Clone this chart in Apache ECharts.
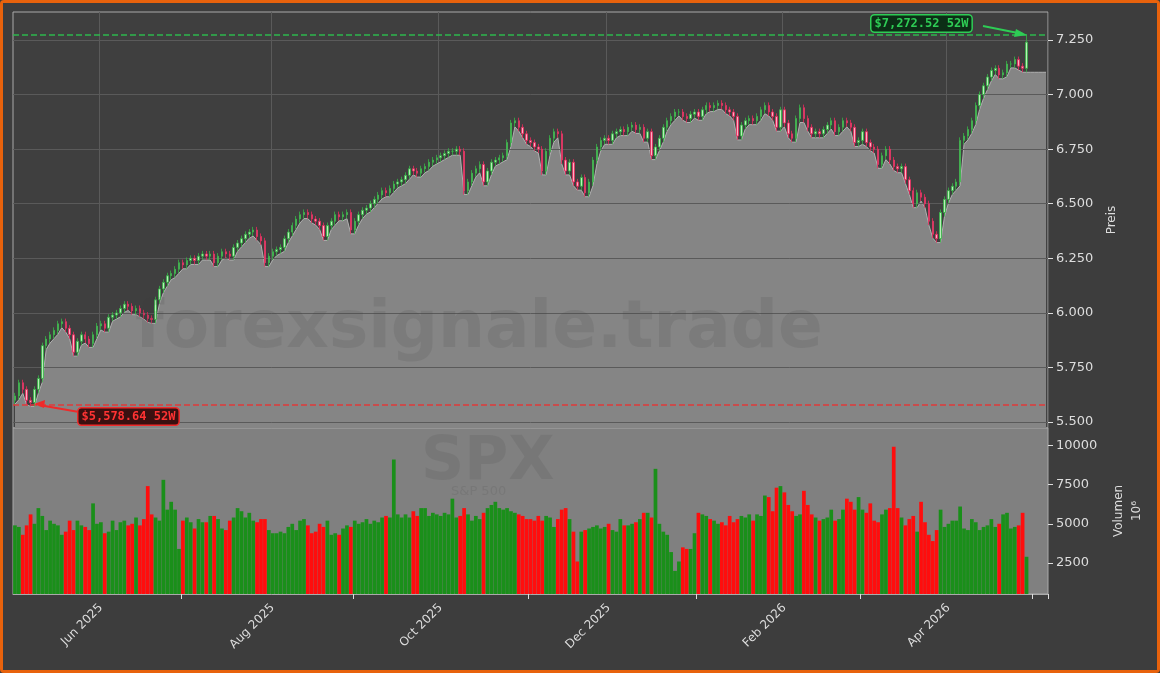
<!DOCTYPE html>
<html lang="de">
<head>
    <meta charset="UTF-8">
    <title>SPX</title>
    <script type="text/javascript" src="https://cdn.jsdelivr.net/npm/echarts@6/dist/echarts.min.js"></script>
    <style type="text/css">
        html, body { margin: 0; padding: 0; background: #3d3d3d; }
        #main { width: 1154px; height: 667px; border: 3px solid #e8620c; border-radius: 4px; }
    </style>
</head>
<body>
<div id="main"></div>
<script type="text/javascript">
    // Schlusskurse, 52 Wochen à 5 Handelstage
    var closes = [
        5620,5680,5650,5600,5590, 5650,5700,5850,5880,5900, 5920,5950,5960,5930,5900,
        5820,5870,5900,5880,5860, 5900,5940,5950,5930,5980, 5990,6000,6020,6040,6030,
        6010,6020,6000,5990,5975, 5970,6060,6110,6140,6170, 6180,6200,6230,6220,6240,
        6250,6240,6260,6270,6260, 6270,6230,6260,6280,6270, 6260,6300,6320,6340,6360,
        6370,6380,6350,6330,6230, 6260,6280,6290,6300,6340, 6370,6400,6430,6450,6460,
        6450,6430,6420,6400,6350, 6400,6420,6450,6440,6450, 6460,6380,6420,6450,6470,
        6480,6500,6520,6540,6560, 6550,6570,6590,6600,6610, 6630,6660,6650,6640,6660,
        6670,6690,6700,6710,6720, 6730,6740,6740,6750,6740, 6560,6600,6640,6660,6680,
        6600,6650,6690,6700,6710, 6720,6780,6870,6880,6850, 6820,6790,6780,6760,6750,
        6650,6740,6800,6830,6820, 6700,6650,6690,6600,6580, 6620,6550,6600,6700,6760,
        6790,6800,6790,6820,6830, 6840,6830,6850,6860,6840, 6850,6800,6830,6720,6760,
        6800,6850,6880,6900,6920, 6920,6900,6890,6910,6920, 6900,6930,6950,6940,6950,
        6960,6950,6930,6920,6900, 6810,6860,6880,6890,6880, 6900,6930,6950,6920,6900,
        6850,6930,6870,6820,6800, 6890,6940,6890,6850,6820, 6830,6820,6840,6860,6880,
        6830,6850,6880,6870,6850, 6780,6790,6830,6780,6760, 6750,6680,6720,6750,6700,
        6670,6660,6670,6610,6560, 6500,6550,6530,6500,6420, 6360,6340,6460,6520,6560,
        6580,6600,6790,6810,6840, 6880,6950,7000,7040,7080, 7110,7120,7090,7100,7140,
        7140,7160,7130,7120,7240
    ];
    // Volumen
    var volumes = [
        4900,4800,4300,4900,5600, 5000,6000,5500,4600,5200, 5000,4900,4300,4500,5200,
        4600,5200,4900,4800,4600, 6300,5000,5100,4400,4500, 5200,4600,5100,5200,4900,
        5000,5400,4900,5300,7400, 5600,5400,5200,7800,5900, 6400,5900,3400,5200,5400,
        5100,4700,5300,5100,5100, 5500,5500,5300,4700,4600, 5200,5400,6000,5800,5400,
        5700,5200,5100,5300,5300, 4600,4400,4400,4500,4400, 4800,5000,4600,5200,5300,
        4900,4400,4500,5000,4800, 5200,4300,4400,4300,4700, 4900,4800,5200,5000,5100,
        5300,5000,5200,5100,5400, 5500,5400,9100,5600,5400, 5600,5400,5800,5500,6000,
        6000,5500,5700,5600,5500, 5700,5600,6600,5400,5500, 6000,5600,5200,5500,5300,
        5700,6000,6200,6400,6000, 5900,6000,5800,5700,5600, 5500,5300,5300,5200,5500,
        5200,5500,5400,4800,5300, 5900,6000,5300,4500,2600, 4500,4600,4700,4800,4900,
        4700,4800,5000,4600,4500, 5300,4900,4900,5000,5100, 5300,5700,5700,5400,8500,
        5000,4500,4300,3200,2000, 2600,3500,3400,3400,4400, 5700,5600,5500,5300,5200,
        5000,5100,4900,5500,5100, 5300,5500,5400,5600,5200, 5600,5500,6800,6700,5800,
        7300,7400,7000,6200,5800, 5500,5600,7100,6200,5600, 5400,5200,5300,5400,5900,
        5200,5300,5900,6600,6400, 5900,6700,5900,5700,6300, 5200,5100,5600,5900,6000,
        9900,6000,5400,4900,5300, 5500,4500,6400,5100,4300, 3900,4600,5900,4800,5000,
        5200,5200,6100,4700,4600, 5300,5100,4600,4800,4900, 5300,4800,5000,5600,5700,
        4700,4800,4900,5700,2900
    ];
    var firstOpen = 5600;
    var high52 = 7272.52, low52 = 5578.64;
    var priceTicks = [5500, 5750, 6000, 6250, 6500, 6750, 7000, 7250];
    var volTicks = [2500, 5000, 7500, 10000];
    var monthNames = ['Jan','Feb','Mar','Apr','May','Jun','Jul','Aug','Sep','Oct','Nov','Dec'];

    // Handelstage ab 1. Mai 2025 (+5 leere Tage am Ende)
    var dates = [];
    var d = new Date(Date.UTC(2025, 4, 1));
    while (dates.length < closes.length + 5) {
        var wd = d.getUTCDay();
        if (wd !== 0 && wd !== 6) dates.push(new Date(d.getTime()));
        d.setUTCDate(d.getUTCDate() + 1);
    }
    var cats = dates.map(function (x) { return x.toISOString().slice(0, 10); });
    function firstOfMonth(i) {
        return i > 0 && dates[i].getUTCMonth() !== dates[i - 1].getUTCMonth();
    }
    function evenMonth(i) { return firstOfMonth(i) && dates[i].getUTCMonth() % 2 === 1; }
    function oddMonth(i) { return firstOfMonth(i) && dates[i].getUTCMonth() % 2 === 0; }

    var candles = [], lows = [], volData = [];
    for (var i = 0; i < closes.length; i++) {
        var o = i === 0 ? firstOpen : closes[i - 1];
        var c = closes[i];
        var lo = Math.min(o, c) - 18, hi = Math.max(o, c) + 14;
        if (i === 3) lo = low52;
        if (i === closes.length - 1) hi = high52;
        candles.push([o, c, lo, hi]);
        lows.push(lo);
        volData.push({ value: volumes[i], itemStyle: { color: c >= o ? '#1a8f1a' : '#ff0d0d' } });
    }
    for (var k = 0; k < 5; k++) lows.push(lows[lows.length - 1]);

    var chart = echarts.init(document.getElementById('main'));
    chart.setOption({
        backgroundColor: '#3d3d3d',
        animation: false,
        grid: [
            { left: 10, top: 9, width: 1035, height: 416, show: true, backgroundColor: '#3f3f3f', borderColor: '#aaaaaa', borderWidth: 1 },
            { left: 10, top: 425, width: 1035, height: 166, show: true, backgroundColor: '#808080', borderColor: '#aaaaaa', borderWidth: 1 }
        ],
        xAxis: [
            {
                type: 'category', gridIndex: 0, data: cats, boundaryGap: true,
                axisLine: { show: false }, axisTick: { show: false }, axisLabel: { show: false },
                splitLine: { show: true, interval: function (i) { return evenMonth(i); }, lineStyle: { color: '#5a5a5a' } }
            },
            {
                type: 'category', gridIndex: 1, data: cats, boundaryGap: true,
                axisLine: { lineStyle: { color: '#aaaaaa' } },
                axisTick: { show: true, interval: function (i) { return oddMonth(i); }, length: 5, lineStyle: { color: '#dddddd' } },
                axisLabel: {
                    interval: function (i) { return evenMonth(i); },
                    rotate: 45, color: '#dddddd', fontSize: 12, fontFamily: 'DejaVu Sans', margin: 12,
                    formatter: function (v) { var dt = new Date(v); return monthNames[dt.getUTCMonth()] + ' ' + dt.getUTCFullYear(); }
                },
                splitLine: { show: false }
            }
        ],
        yAxis: [
            {
                type: 'value', gridIndex: 0, position: 'right', min: 5473, max: 7378,
                name: 'Preis', nameLocation: 'middle', nameGap: 58, nameRotate: 90,
                nameTextStyle: { color: '#dddddd', fontSize: 12, fontFamily: 'DejaVu Sans' },
                axisLine: { show: false },
                axisTick: { show: true, customValues: priceTicks, length: 5, lineStyle: { color: '#dddddd' } },
                axisLabel: { customValues: priceTicks, color: '#dddddd', fontSize: 13, fontFamily: 'DejaVu Sans', margin: 8,
                    formatter: function (v) { return (v / 1000).toFixed(3); } },
                splitLine: { show: false }
            },
            {
                type: 'value', gridIndex: 1, position: 'right', min: 530, max: 11100,
                name: 'Volumen\n10⁶', nameLocation: 'middle', nameGap: 62, nameRotate: 90,
                nameTextStyle: { color: '#dddddd', fontSize: 12, fontFamily: 'DejaVu Sans', lineHeight: 18 },
                axisLine: { show: false },
                axisTick: { show: true, customValues: volTicks, length: 5, lineStyle: { color: '#dddddd' } },
                axisLabel: { customValues: volTicks, color: '#dddddd', fontSize: 13, fontFamily: 'DejaVu Sans', margin: 8,
                    formatter: function (v) { return String(v); } },
                splitLine: { show: false }
            }
        ],
        graphic: [
            { type: 'text', left: 132, top: 294, z: 100, silent: true,
              style: { text: 'forexsignale.trade', fill: 'rgba(60,60,60,0.13)', font: 'bold 66px "DejaVu Sans"' } },
            { type: 'text', left: 418, top: 430, z: 100, silent: true,
              style: { text: 'SPX', fill: 'rgba(60,60,60,0.13)', font: 'bold 60px "DejaVu Sans"' } },
            { type: 'text', left: 448, top: 482, z: 100, silent: true,
              style: { text: 'S&P 500', fill: 'rgba(60,60,60,0.13)', font: '13px "DejaVu Sans"' } },
            { type: 'line', z: 150, shape: { x1: 980, y1: 23, x2: 1020, y2: 31 }, style: { stroke: '#2ecc55', lineWidth: 2 } },
            { type: 'polygon', z: 150, shape: { points: [[1024, 32], [1013, 26], [1011, 34]] }, style: { fill: '#2ecc55' } },
            { type: 'text', z: 151, left: 867, top: 11,
              style: { text: '$7,272.52 52W', font: 'bold 12px "DejaVu Sans Mono"', fill: '#2ecc55',
                       backgroundColor: '#0c2e16', borderColor: '#2ecc55', borderWidth: 1.5, borderRadius: 3, padding: [2, 3] } },
            { type: 'line', z: 150, shape: { x1: 76, y1: 409, x2: 36, y2: 402 }, style: { stroke: '#ee2a2a', lineWidth: 2 } },
            { type: 'polygon', z: 150, shape: { points: [[31, 401], [42, 397], [41, 405]] }, style: { fill: '#ee2a2a' } },
            { type: 'text', z: 151, left: 74, top: 404,
              style: { text: '$5,578.64 52W', font: 'bold 12px "DejaVu Sans Mono"', fill: '#ff3333',
                       backgroundColor: '#3a1010', borderColor: '#ee2a2a', borderWidth: 1.5, borderRadius: 3, padding: [2, 3] } }
        ],
        series: [
            {
                name: 'area', type: 'line', xAxisIndex: 0, yAxisIndex: 0, data: lows,
                showSymbol: false, z: 2,
                lineStyle: { color: '#b0b0b0', width: 1 },
                areaStyle: { color: '#858585', opacity: 1, origin: 'start' },
                markLine: {
                    silent: true, symbol: 'none', label: { show: false },
                    data: priceTicks.map(function (v) { return { yAxis: v, lineStyle: { color: '#5a5a5a', type: 'solid', width: 1 } }; })
                        .concat([
                            { yAxis: high52, lineStyle: { color: '#2eb84e', type: 'dashed', width: 1.5 } },
                            { yAxis: low52, lineStyle: { color: '#e03a3a', type: 'dashed', width: 1.5 } }
                        ])
                }
            },
            {
                name: 'SPX', type: 'candlestick', xAxisIndex: 0, yAxisIndex: 0, data: candles,
                barMaxWidth: 3, z: 5,
                itemStyle: { color: '#b8efb8', color0: '#ffb0c4', borderColor: '#35b545', borderColor0: '#e8285c', borderWidth: 0.8 }
            },
            {
                name: 'Volumen', type: 'bar', xAxisIndex: 1, yAxisIndex: 1, data: volData,
                barWidth: '95%', z: 3
            }
        ]
    });
</script>
</body>
</html>
